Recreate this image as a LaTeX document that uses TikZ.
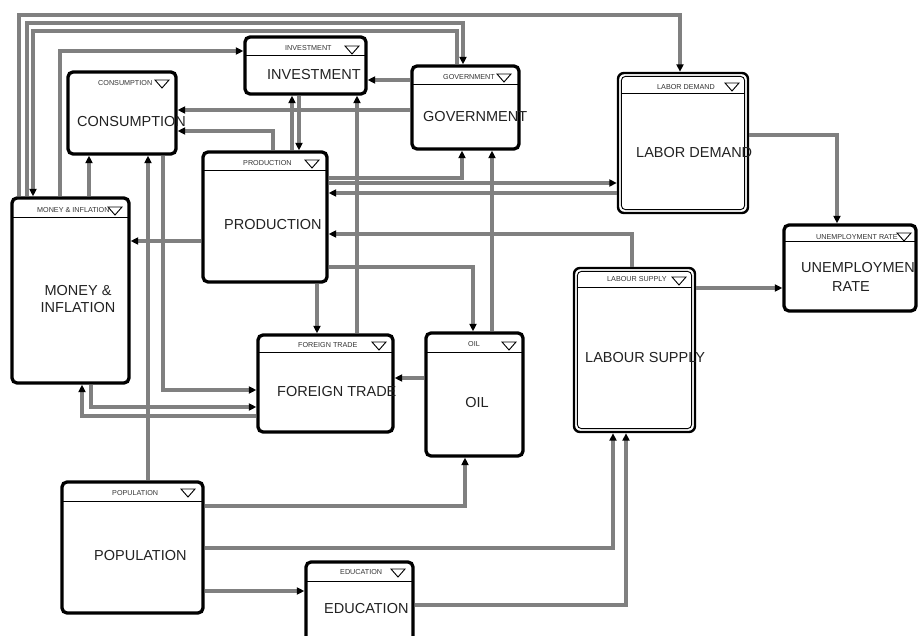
\documentclass[tikz,border=0pt]{standalone}
\usepackage{fontspec}
\setmainfont{Liberation Sans}
\usetikzlibrary{arrows.meta,calc}
\definecolor{linegray}{HTML}{808080}
\definecolor{txt}{HTML}{222222}
\definecolor{htxt}{HTML}{333333}
\newcommand\hdtri[2]{\draw[tri] (#1,#2) -- ++(14,0) -- ++(-7,8) -- cycle;}
\begin{document}
\begin{tikzpicture}[x=1pt,y=-1pt,
  box/.style={draw=black, line width=3.3pt, rounded corners=5pt, fill=white, inner sep=0pt, outer sep=1.65pt},
  dbox/.style={draw=black, line width=2.4pt, rounded corners=6pt, fill=white, inner sep=0pt, outer sep=1.2pt},
  innerline/.style={draw=black, line width=0.9pt, rounded corners=4pt},
  hline/.style={draw=black, line width=1pt},
  tri/.style={draw=black, line width=0.9pt, line join=miter},
  conn/.style={draw=linegray, line width=3.3pt, -{Triangle[length=7.5pt,width=7pt,color=black]}},
  main/.style={font=\fontsize{14.5}{17.5}\selectfont, text=txt, inner sep=0pt},
  head/.style={font=\fontsize{7.2}{8}\selectfont, text=htxt, inner sep=0pt}
]
\useasboundingbox (0,0) rectangle (919,636);

% ---------- boxes ----------
\node[box, minimum width=108pt, minimum height=82pt]  (cons) at (122,113) {};
\node[box, minimum width=121pt, minimum height=57pt]  (inv)  at (305.5,65.5) {};
\node[box, minimum width=107pt, minimum height=83pt]  (gov)  at (465.5,107.5) {};
\node[dbox, minimum width=130pt, minimum height=140pt] (ld)  at (683,143) {};
\node[box, minimum width=124pt, minimum height=130pt] (prod) at (265,217) {};
\node[box, minimum width=117pt, minimum height=185pt] (mon)  at (70.5,290.5) {};
\node[box, minimum width=135pt, minimum height=97pt]  (ft)   at (325.5,383.5) {};
\node[box, minimum width=97pt, minimum height=123pt]  (oil)  at (474.5,394.5) {};
\node[dbox, minimum width=121pt, minimum height=164pt] (ls)  at (634.5,350) {};
\node[box, minimum width=132pt, minimum height=86pt]  (ur)   at (850,268) {};
\node[box, minimum width=141pt, minimum height=131pt] (pop)  at (132.5,547.5) {};
\node[box, minimum width=107pt, minimum height=86pt]  (edu)  at (359.5,605) {};

% inner outlines of the double-bordered boxes
\draw[innerline] ($(ld.north west)+(4.6,4.6)$) rectangle ($(ld.south east)+(-4.6,-4.6)$);
\draw[innerline] ($(ls.north west)+(4.6,4.6)$) rectangle ($(ls.south east)+(-4.6,-4.6)$);

% header separator lines
\draw[hline, shorten <=1.6pt, shorten >=1.6pt] (inv.west |- 0,56) -- (inv.east |- 0,56);
\draw[hline, shorten <=1.6pt, shorten >=1.6pt] (gov.west |- 0,85) -- (gov.east |- 0,85);
\draw[hline, shorten <=4.6pt, shorten >=4.6pt] (ld.west |- 0,94) -- (ld.east |- 0,94);
\draw[hline, shorten <=1.6pt, shorten >=1.6pt] (prod.west |- 0,171) -- (prod.east |- 0,171);
\draw[hline, shorten <=1.6pt, shorten >=1.6pt] (mon.west |- 0,218) -- (mon.east |- 0,218);
\draw[hline, shorten <=1.6pt, shorten >=1.6pt] (ft.west |- 0,353) -- (ft.east |- 0,353);
\draw[hline, shorten <=1.6pt, shorten >=1.6pt] (oil.west |- 0,353) -- (oil.east |- 0,353);
\draw[hline, shorten <=4.6pt, shorten >=4.6pt] (ls.west |- 0,288) -- (ls.east |- 0,288);
\draw[hline, shorten <=1.6pt, shorten >=1.6pt] (ur.west |- 0,242) -- (ur.east |- 0,242);
\draw[hline, shorten <=1.6pt, shorten >=1.6pt] (pop.west |- 0,501) -- (pop.east |- 0,501);
\draw[hline, shorten <=1.6pt, shorten >=1.6pt] (edu.west |- 0,581) -- (edu.east |- 0,581);

% header triangles
\hdtri{155}{80}
\hdtri{345}{46}
\hdtri{497}{74}
\hdtri{725}{83}
\hdtri{305}{160}
\hdtri{108}{207}
\hdtri{372}{342}
\hdtri{502}{342}
\hdtri{672}{277}
\hdtri{897}{233}
\hdtri{181}{489}
\hdtri{391}{569}

% header texts
\node[head, anchor=west] (hcons) at (98,83) {CONSUMPTION};
\node[head, anchor=west] (hinv)  at (285,48) {INVESTMENT};
\node[head, anchor=west] (hgov)  at (443,77) {GOVERNMENT};
\node[head, anchor=west] (hld)   at (657,87) {LABOR DEMAND};
\node[head, anchor=west] (hprod) at (243,163) {PRODUCTION};
\node[head, anchor=west] (hmon)  at (37,210) {MONEY \& INFLATION};
\node[head, anchor=west] (hft)   at (298,345) {FOREIGN TRADE};
\node[head]              (hoil)  at (474,344) {OIL};
\node[head, anchor=west] (hls)   at (607,279) {LABOUR SUPPLY};
\node[head, anchor=west] (hur)   at (816,237) {UNEMPLOYMENT RATE};
\node[head, anchor=west] (hpop)  at (112,493) {POPULATION};
\node[head, anchor=west] (hedu)  at (340,572) {EDUCATION};

% ---------- connectors ----------
\draw[conn] (mon.north -| 19,0) -- (19,15) -- (680,15) -- (ld.north -| 680,0);
\draw[conn] (mon.north -| 27,0) -- (27,23) -- (463,23) -- (gov.north -| 463,0);
\draw[conn] (gov.north -| 457,0) -- (457,31) -- (33,31) -- (mon.north -| 33,0);
\draw[conn] (mon.north -| 60,0) |- (inv.west |- 0,51);
\draw[conn] (mon.north -| 89,0) -- (cons.south -| 89,0);
\draw[conn] (pop.north -| 148,0) -- (cons.south -| 148,0);
\draw[conn] (cons.south -| 163,0) |- (ft.west |- 0,390);
\draw[conn] (mon.south -| 91,0) |- (ft.west |- 0,407);
\draw[conn] (ft.west |- 0,416) -| (mon.south -| 82,0);
\draw[conn] (prod.west |- 0,241) -- (mon.east |- 0,241);
\draw[conn] (gov.west |- 0,110) -- (cons.east |- 0,110);
\draw[conn] (prod.north -| 273,0) |- (cons.east |- 0,131);
\draw[conn] (prod.north -| 292,0) -- (inv.south -| 292,0);
\draw[conn] (inv.south -| 299,0) -- (prod.north -| 299,0);
\draw[conn] (gov.west |- 0,80) -- (inv.east |- 0,80);
\draw[conn] (ft.north -| 357,0) -- (inv.south -| 357,0);
\draw[conn] (oil.north -| 492,0) -- (gov.south -| 492,0);
\draw[conn] (prod.east |- 0,178) -| (gov.south -| 462,0);
\draw[conn] (prod.east |- 0,183) -- (ld.west |- 0,183);
\draw[conn] (ld.west |- 0,193) -- (prod.east |- 0,193);
\draw[conn] (ls.north -| 632,0) |- (prod.east |- 0,234);
\draw[conn] (prod.east |- 0,267) -| (oil.north -| 473,0);
\draw[conn] (prod.south -| 317,0) -- (ft.north -| 317,0);
\draw[conn] (oil.west |- 0,378) -- (ft.east |- 0,378);
\draw[conn] (ld.east |- 0,135) -| (ur.north -| 837,0);
\draw[conn] (ls.east |- 0,288) -- (ur.west |- 0,288);
\draw[conn] (pop.east |- 0,506) -| (oil.south -| 465,0);
\draw[conn] (pop.east |- 0,548) -| (ls.south -| 613,0);
\draw[conn] (pop.east |- 0,591) -- (edu.west |- 0,591);
\draw[conn] (edu.east |- 0,605) -| (ls.south -| 626,0);

% ---------- main labels ----------
\node[main, anchor=west] (tcons) at (77,122) {CONSUMPTION};
\node[main, anchor=west] (tinv)  at (267,75) {INVESTMENT};
\node[main, anchor=west] (tgov)  at (423,117) {GOVERNMENT};
\node[main, anchor=west] (tld)   at (636,153) {LABOR DEMAND};
\node[main, anchor=west] (tprod) at (224,225) {PRODUCTION};
\node[main, align=center] (tmon) at (78,299) {MONEY \&\\INFLATION};
\node[main, anchor=west] (tft)   at (277,392) {FOREIGN TRADE};
\node[main]              (toil)  at (477,403) {OIL};
\node[main, anchor=west] (tls)   at (585,358) {LABOUR SUPPLY};
\node[main, anchor=west] (tur1)  at (801,268) {UNEMPLOYMEN};
\node[main]              (tur2)  at (851,287) {RATE};
\node[main, anchor=west] (tpop)  at (94,556) {POPULATION};
\node[main, anchor=west] (tedu)  at (324,609) {EDUCATION};
\end{tikzpicture}
\end{document}
